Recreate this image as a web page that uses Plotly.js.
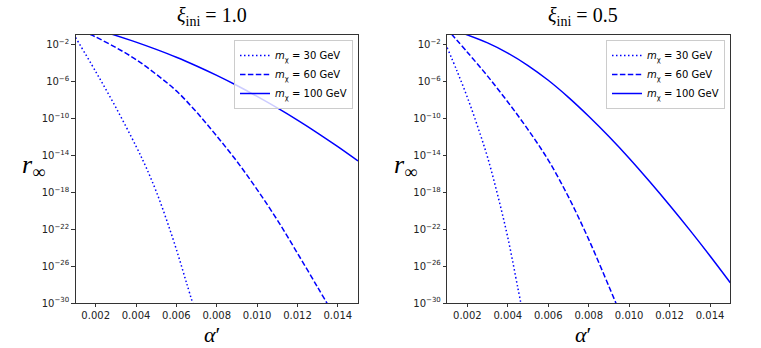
<!DOCTYPE html>
<html>
<head>
<meta charset="utf-8">
<script src="https://cdn.plot.ly/plotly-3.0.1.min.js"></script>
<style>
  body { margin: 0; background: #fff; }
  #chart { width: 761px; height: 348px; }
</style>
</head>
<body>
<div id="chart"></div>
<script>
// alpha' values and log10(r_inf)
// left panel, xi_ini = 1.0
const left30_x = [0.001, 0.002, 0.003, 0.004, 0.0045, 0.005, 0.0055, 0.006, 0.0065, 0.0069];
const left30_y = [-1.2, -4.9, -8.8, -13.0, -15.3, -17.9, -20.9, -24.2, -27.8, -30.7];
const left60_x = [0.0017, 0.002, 0.003, 0.004, 0.005, 0.006, 0.007, 0.008, 0.009, 0.010, 0.011, 0.012, 0.013, 0.0137];
const left60_y = [-0.85, -1.15, -2.3, -3.6, -5.2, -7.0, -9.3, -11.9, -14.65, -17.7, -21.0, -24.6, -28.3, -30.9];
const left100_x = [0.0028, 0.004, 0.005, 0.006, 0.007, 0.008, 0.009, 0.010, 0.011, 0.012, 0.013, 0.014, 0.015];
const left100_y = [-0.85, -1.71, -2.5, -3.35, -4.3, -5.32, -6.42, -7.6, -8.85, -10.17, -11.57, -13.05, -14.6];

// right panel, xi_ini = 0.5
const right30_x = [0.001, 0.0015, 0.002, 0.0025, 0.003, 0.0035, 0.004, 0.0045, 0.0047];
const right30_y = [-2.3, -4.9, -7.7, -10.8, -14.2, -18.3, -22.9, -28.4, -30.6];
const right60_x = [0.0012, 0.002, 0.003, 0.004, 0.005, 0.006, 0.007, 0.008, 0.009, 0.0094];
const right60_y = [-0.8, -2.8, -5.4, -8.2, -11.2, -14.5, -18.5, -23.1, -28.2, -30.3];
const right100_x = [0.0019, 0.003, 0.004, 0.005, 0.006, 0.007, 0.008, 0.009, 0.010, 0.011, 0.012, 0.013, 0.014, 0.015];
const right100_y = [-0.85, -1.8, -2.9, -4.25, -5.85, -7.7, -9.75, -11.95, -14.3, -16.8, -19.4, -22.1, -24.9, -27.8];

const seriesNames = ['<i>m</i><sub>χ</sub> = 30 GeV', '<i>m</i><sub>χ</sub> = 60 GeV', '<i>m</i><sub>χ</sub> = 100 GeV'];
const panelTitles = ['<i>ξ</i><sub>ini</sub> = 1.0', '<i>ξ</i><sub>ini</sub> = 0.5'];
const yTickExp = [-30, -26, -22, -18, -14, -10, -6, -2];
const xTicks = [0.002, 0.004, 0.006, 0.008, 0.010, 0.012, 0.014];

const dashes = ['1.5px,2.5px', '5.5px,2.4px', 'solid'];

function makeTrace(xs, ys, i, panel) {
  return {
    x: xs,
    y: ys.map(v => Math.pow(10, v)),
    type: 'scatter',
    mode: 'lines',
    name: seriesNames[i],
    line: {color: '#0000ff', width: 1.5, dash: dashes[i], shape: 'spline', smoothing: 1},
    xaxis: panel ? 'x2' : 'x',
    yaxis: panel ? 'y2' : 'y',
    legend: panel ? 'legend2' : 'legend',
    hoverinfo: 'skip'
  };
}

const traces = [
  makeTrace(left30_x, left30_y, 0, 0),
  makeTrace(left60_x, left60_y, 1, 0),
  makeTrace(left100_x, left100_y, 2, 0),
  makeTrace(right30_x, right30_y, 0, 1),
  makeTrace(right60_x, right60_y, 1, 1),
  makeTrace(right100_x, right100_y, 2, 1)
];

const W = 761, H = 348;
const tickFont = {family: 'DejaVu Sans', size: 10, color: '#222'};

function xAxis(x0, x1, anchor) {
  return {
    domain: [x0 / W, x1 / W], anchor: anchor,
    range: [0.001, 0.015], tickvals: xTicks, ticktext: xTicks.map(v => v.toFixed(3)),
    ticks: 'outside', ticklen: 3.5, tickwidth: 0.8, tickcolor: '#000',
    showline: true, linecolor: '#000', linewidth: 0.8, mirror: true,
    showgrid: false, zeroline: false, tickfont: tickFont
  };
}

function yAxis(anchor) {
  return {
    domain: [(H - 303) / H, (H - 35) / H], anchor: anchor,
    type: 'log', range: [-30, -0.94],
    tickvals: yTickExp.map(e => Math.pow(10, e)),
    ticktext: yTickExp.map(e => '10<sup>−' + Math.abs(e) + '</sup>'),
    ticks: 'outside', ticklen: 3.5, tickwidth: 0.8, tickcolor: '#000',
    showline: true, linecolor: '#000', linewidth: 0.8, mirror: true,
    showgrid: false, zeroline: false, tickfont: tickFont
  };
}

function legendAt(xRight) {
  return {
    x: xRight / W, y: 1 - 40 / H, xanchor: 'right', yanchor: 'top',
    bgcolor: 'rgba(255,255,255,0.8)', bordercolor: '#cccccc', borderwidth: 1,
    font: {family: 'DejaVu Sans', size: 10, color: '#000'},
    tracegroupgap: 0
  };
}

const serif = 'Liberation Serif';
const annotations = [];
[[212, 33], [583, 405]].forEach(([cx, ly], i) => {
  annotations.push({text: panelTitles[i], x: cx / W, y: 1 - 17 / H, xref: 'paper', yref: 'paper',
    showarrow: false, xanchor: 'center', yanchor: 'middle', font: {family: serif, size: 20, color: '#000'}});
  annotations.push({text: '<i>α</i>′', x: cx / W, y: 1 - 334 / H, xref: 'paper', yref: 'paper',
    showarrow: false, xanchor: 'center', yanchor: 'middle', font: {family: serif, size: 22, color: '#000'}});
  annotations.push({text: '<i>r</i><sub>∞</sub>', x: ly / W, y: 1 - 166 / H, xref: 'paper', yref: 'paper',
    showarrow: false, xanchor: 'center', yanchor: 'middle', font: {family: serif, size: 26, color: '#000'}});
});

const layout = {
  width: W, height: H,
  margin: {l: 0, r: 0, t: 0, b: 0},
  paper_bgcolor: '#fff', plot_bgcolor: '#fff',
  showlegend: true,
  xaxis: xAxis(75.5, 358, 'y'),
  yaxis: yAxis('x'),
  xaxis2: xAxis(447.1, 730.3, 'y2'),
  yaxis2: yAxis('x2'),
  legend: legendAt(353),
  legend2: legendAt(725),
  annotations: annotations
};

Plotly.newPlot('chart', traces, layout, {staticPlot: true});
</script>
</body>
</html>
